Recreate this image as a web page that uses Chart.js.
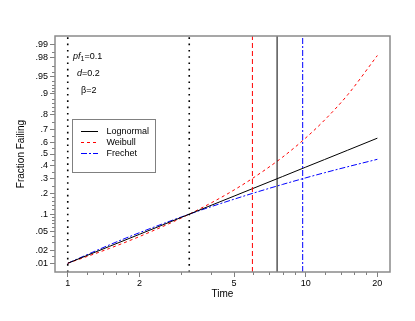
<!DOCTYPE html>
<html>
<head>
<meta charset="utf-8">
<script src="https://cdn.jsdelivr.net/npm/chart.js@4.4.1/dist/chart.umd.min.js"></script>
<style>
  html, body { margin: 0; padding: 0; background: #fff; }
  #chart { display: block; }
</style>
</head>
<body>
<canvas id="chart" width="415" height="321"></canvas>
<script>
// Values (fraction failing at each time)
const times = [1, 1.5, 2, 3, 4, 5, 6, 8, 10, 12, 15, 20];
const lognormal = [0.010, 0.0247, 0.0436, 0.0885, 0.137, 0.185, 0.2315, 0.316, 0.390, 0.453, 0.532, 0.632];
const weibull = [0.010, 0.0223, 0.0394, 0.0865, 0.1485, 0.222, 0.304, 0.474, 0.634, 0.765, 0.896, 0.982];
const frechet = [0.010, 0.0266, 0.0469, 0.0899, 0.1309, 0.168, 0.2017, 0.2588, 0.3058, 0.345, 0.393, 0.455];

// Vertical reference lines (time)
const dottedTimes = [1, 3.24];
const weibullMark = 5.97;
const lognormalMark = 7.58;
const frechetMark = 9.71;

// Axes
const xRange = [0.884, 22.6];
const yRange = [0.006, 0.994];
const xTicks = [1, 2, 5, 10, 20];
const xMinorTicks = [1.2, 1.4, 1.6, 1.8, 3, 4, 6, 7, 8, 9, 12, 14, 16, 18];
const yTicks = [0.01, 0.02, 0.05, 0.1, 0.2, 0.3, 0.4, 0.5, 0.6, 0.7, 0.8, 0.9, 0.95, 0.98, 0.99];
const yTickLabels = ['.01', '.02', '.05', '.1', '.2', '.3', '.4', '.5', '.6', '.7', '.8', '.9', '.95', '.98', '.99'];
const yMinorTicks = [0.015, 0.03, 0.04, 0.06, 0.07, 0.08, 0.09, 0.12, 0.14, 0.16, 0.18, 0.25, 0.35, 0.45,
  0.55, 0.65, 0.75, 0.82, 0.84, 0.86, 0.88, 0.91, 0.92, 0.93, 0.94, 0.96, 0.97, 0.985];

const FONT = '"Liberation Sans", Arial, sans-serif';

// inverse normal cdf (Acklam) - the probability axis transform
function probit(p) {
  const a = [-39.69683028665376, 220.9460984245205, -275.9285104469687, 138.3577518672690, -30.66479806614716, 2.506628277459239];
  const b = [-54.47609879822406, 161.5858368580409, -155.6989798598866, 66.80131188771972, -13.28068155288572];
  const c = [-0.007784894002430293, -0.3223964580411365, -2.400758277161838, -2.549732539343734, 4.374664141464968, 2.938163982698783];
  const d = [0.007784695709041462, 0.3224671290700398, 2.445134137142996, 3.754408661907416];
  const pl = 0.02425;
  if (p < pl) {
    const q = Math.sqrt(-2 * Math.log(p));
    return (((((c[0]*q+c[1])*q+c[2])*q+c[3])*q+c[4])*q+c[5]) / ((((d[0]*q+d[1])*q+d[2])*q+d[3])*q+1);
  }
  if (p > 1 - pl) {
    const q = Math.sqrt(-2 * Math.log(1 - p));
    return -(((((c[0]*q+c[1])*q+c[2])*q+c[3])*q+c[4])*q+c[5]) / ((((d[0]*q+d[1])*q+d[2])*q+d[3])*q+1);
  }
  const q = p - 0.5, r = q * q;
  return (((((a[0]*r+a[1])*r+a[2])*r+a[3])*r+a[4])*r+a[5])*q / (((((b[0]*r+b[1])*r+b[2])*r+b[3])*r+b[4])*r+1);
}

function curve(values) {
  return times.map((t, i) => ({ x: t, y: probit(values[i]) }));
}

function vline(t) {
  return [{ x: t, y: probit(yRange[0]) }, { x: t, y: probit(yRange[1]) }];
}

const lineStyle = {
  lognormal: { color: '#000000', dash: [] },
  weibull: { color: '#ff0000', dash: [3, 3] },
  frechet: { color: '#0000ff', dash: [6, 2, 2, 2] },
};

// frame, minor ticks, legend and parameter text
const decorations = {
  id: 'decorations',
  beforeDatasetsDraw(chart) {
    const { ctx, chartArea: a, scales: { x, y } } = chart;
    ctx.save();
    ctx.strokeStyle = '#808080';
    ctx.lineWidth = 1;
    ctx.beginPath();
    xMinorTicks.forEach(v => {
      const px = Math.round(x.getPixelForValue(v)) + 0.5;
      ctx.moveTo(px, a.bottom);
      ctx.lineTo(px, a.bottom + 3);
    });
    yMinorTicks.forEach(v => {
      const py = Math.round(y.getPixelForValue(probit(v))) + 0.5;
      ctx.moveTo(a.left - 3, py);
      ctx.lineTo(a.left, py);
    });
    ctx.stroke();
    ctx.restore();
  },
  afterDraw(chart) {
    const { ctx, chartArea: a } = chart;
    ctx.save();

    // plot frame
    ctx.strokeStyle = '#8a8a8a';
    ctx.lineWidth = 1.5;
    ctx.strokeRect(a.left, a.top, a.right - a.left, a.bottom - a.top);

    // parameter text
    ctx.fillStyle = '#000';
    ctx.textBaseline = 'alphabetic';
    let tx = 73;
    ctx.font = 'italic 9px ' + FONT;
    ctx.fillText('pf', tx, 58.5);
    tx += ctx.measureText('pf').width;
    ctx.font = '7px ' + FONT;
    ctx.fillText('1', tx, 60.5);
    tx += ctx.measureText('1').width;
    ctx.font = '9px ' + FONT;
    ctx.fillText('=0.1', tx, 58.5);

    ctx.font = 'italic 9px ' + FONT;
    ctx.fillText('d', 77, 75.5);
    const dw = ctx.measureText('d').width;
    ctx.font = '9px ' + FONT;
    ctx.fillText('=0.2', 77 + dw, 75.5);

    ctx.fillText('\u03b2=2', 81, 92.5);

    // legend
    ctx.fillStyle = '#fff';
    ctx.fillRect(72.5, 119.5, 83, 53);
    ctx.strokeStyle = '#808080';
    ctx.lineWidth = 1;
    ctx.strokeRect(72.5, 119.5, 83, 53);
    const rows = [
      ['Lognormal', lineStyle.lognormal, 131.5],
      ['Weibull', lineStyle.weibull, 142.5],
      ['Frechet', lineStyle.frechet, 153.5],
    ];
    ctx.font = '9px ' + FONT;
    ctx.textBaseline = 'middle';
    rows.forEach(([label, st, ry]) => {
      ctx.strokeStyle = st.color;
      ctx.setLineDash(st.dash);
      ctx.beginPath();
      ctx.moveTo(81, ry);
      ctx.lineTo(98, ry);
      ctx.stroke();
      ctx.setLineDash([]);
      ctx.fillStyle = '#000';
      ctx.fillText(label, 106.5, ry);
    });

    ctx.restore();
  }
};

new Chart(document.getElementById('chart'), {
  type: 'scatter',
  data: {
    datasets: [
      ...dottedTimes.map(t => ({
        data: vline(t), borderColor: '#000', borderWidth: 1.6, borderDash: [1.6, 4.7], borderCapStyle: 'butt'
      })),
      { data: vline(weibullMark), borderColor: '#ff0000', borderDash: [5, 3] },
      { data: vline(lognormalMark), borderColor: '#000' },
      { data: vline(frechetMark), borderColor: '#0000ff', borderDash: [6, 2, 2, 2] },
      { label: 'Lognormal', data: curve(lognormal), borderColor: lineStyle.lognormal.color },
      { label: 'Weibull', data: curve(weibull), borderColor: lineStyle.weibull.color, borderDash: lineStyle.weibull.dash, cubicInterpolationMode: 'monotone' },
      { label: 'Frechet', data: curve(frechet), borderColor: lineStyle.frechet.color, borderDash: lineStyle.frechet.dash, cubicInterpolationMode: 'monotone' },
    ]
  },
  options: {
    responsive: false,
    animation: false,
    events: [],
    layout: { padding: { left: 0, top: 36, right: 25, bottom: 0 } },
    datasets: { scatter: { showLine: true } },
    elements: {
      point: { radius: 0 },
      line: { borderWidth: 1, fill: false }
    },
    plugins: {
      legend: { display: false },
      tooltip: { enabled: false }
    },
    scales: {
      x: {
        type: 'logarithmic',
        min: xRange[0],
        max: xRange[1],
        afterBuildTicks: s => { s.ticks = xTicks.map(v => ({ value: v })); },
        afterFit: s => { s.height = 49; },
        ticks: {
          autoSkip: false, maxRotation: 0, padding: 1, color: '#000',
          font: { family: FONT, size: 9 },
          callback: v => String(v)
        },
        grid: { drawOnChartArea: false, tickLength: 5, color: '#808080' },
        border: { display: false },
        title: {
          display: true, text: 'Time', color: '#000',
          font: { family: FONT, size: 10 },
          padding: { top: 0, bottom: 21 }
        }
      },
      y: {
        type: 'linear',
        min: probit(yRange[0]),
        max: probit(yRange[1]),
        afterBuildTicks: s => { s.ticks = yTicks.map(p => ({ value: probit(p) })); },
        afterFit: s => { s.width = 55; },
        ticks: {
          autoSkip: false, padding: 2, color: '#000',
          font: { family: FONT, size: 9 },
          callback: (v, i) => yTickLabels[i]
        },
        grid: { drawOnChartArea: false, tickLength: 5, color: '#808080' },
        border: { display: false },
        title: {
          display: true, text: 'Fraction Failing', color: '#000',
          font: { family: FONT, size: 10 },
          padding: { top: 15, bottom: 0 }
        }
      }
    }
  },
  plugins: [decorations]
});
</script>
</body>
</html>
